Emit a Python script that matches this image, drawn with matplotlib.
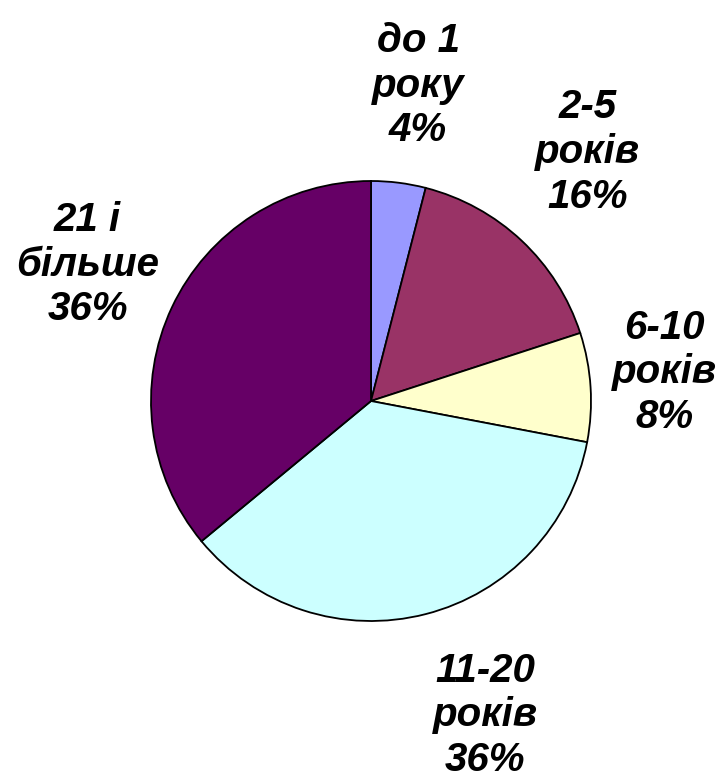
import numpy as np
import matplotlib
matplotlib.use("Agg")
import matplotlib.pyplot as plt

categories = ["до 1\nроку", "2-5\nроків", "6-10\nроків", "11-20\nроків", "21 і\nбільше"]
shares = [4, 16, 8, 36, 36]
colors = ["#9999FF", "#993366", "#FFFFCC", "#CCFFFF", "#660066"]

# label placement: radial distance (in radii) and angle tweak (deg) per slice
label_dist = [1.45, 1.50, 1.34, 1.52, 1.43]
label_dang = [-1.3, 2.2, 2.0, 5.6, -0.5]

plt.rcParams["font.family"] = ["Liberation Sans", "DejaVu Sans"]

fig = plt.figure(figsize=(7.23, 7.79), dpi=100)
ax = fig.add_axes([0, 0, 1, 1])

wedges, _ = ax.pie(shares, colors=colors, startangle=90, counterclock=False,
                   radius=1.0, wedgeprops=dict(edgecolor="black", linewidth=1.3))

total = sum(shares)
for w, cat, val, d, da in zip(wedges, categories, shares, label_dist, label_dang):
    ang = np.deg2rad((w.theta1 + w.theta2) / 2 + da)
    ax.text(d * np.cos(ang), d * np.sin(ang), f"{cat}\n{round(100 * val / total)}%",
            ha="center", va="center", fontsize=29, fontweight="bold",
            fontstyle="italic", linespacing=1.22)

# center at pixel (371, 401), radius 220 px
r = 220.0
ax.set_xlim(-371 / r, (723 - 371) / r)
ax.set_ylim(-(779 - 401) / r, 401 / r)
ax.set_aspect("auto")
ax.axis("off")

fig.savefig("out.png", dpi=100, facecolor="white")
